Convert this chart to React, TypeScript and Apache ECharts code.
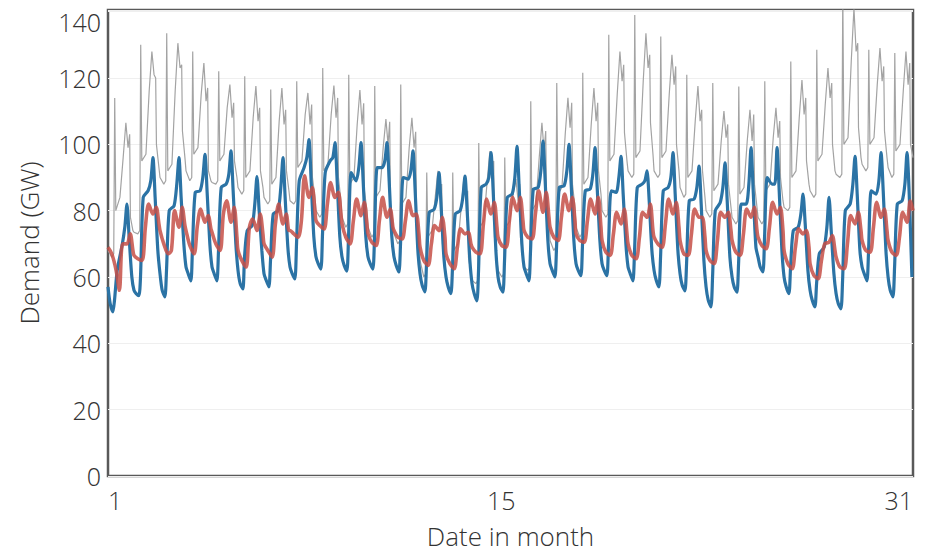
import React, { useEffect, useRef } from "react";
import * as echarts from "echarts";

// x axis: hours from the start of day 1 (hourly data, 31 days)
const xTickValues = [0, 363, 743];
const xTickLabels = ["1", "15", "31"];
const yTickLabels = ["0", "20", "40", "60", "80", "100", "120", "140"];

// key hours within each day at which values were read
const blueHours = [0, 2, 4.5, 6, 8.5, 13, 15.5, 17.5, 19.5, 22];
const redHours = [0, 3.5, 7.5, 10.5, 13.5, 17.5, 20.5, 23];
const greyHours = [0, 3.5, 5.3, 6.2, 7.2, 11, 14, 16.5, 18.5, 20, 20.7, 23];

// current demand (GW), one row per day
const blueDays = [
  [57, 52, 49.5, 53, 62, 69.5, 75, 82, 72, 60],
  [56, 55, 54.4, 60, 84, 86, 89, 96, 84, 68],
  [61, 56, 54, 62, 80, 81.5, 88, 96, 84, 70],
  [63, 61, 58.8, 69, 85.5, 86, 90, 97, 85.5, 70],
  [63, 61, 58.8, 68, 87, 88, 91, 98, 86, 70],
  [62, 58, 56.4, 66, 74, 75.5, 82, 90.3, 80, 68],
  [61, 59, 57, 65, 79, 80, 87, 96, 84, 69],
  [63, 61, 59.4, 70, 89, 93, 96, 101.4, 89, 72],
  [66, 64, 62.4, 73, 91.5, 95, 96, 100.5, 89, 72],
  [66, 63.5, 61.8, 72, 91.5, 89, 93, 100.5, 89, 72],
  [66, 64, 62.4, 72, 93, 93, 95, 100.5, 89, 72],
  [66, 63.5, 61.5, 70, 90, 89.5, 92, 98, 86, 68],
  [61, 57.5, 55.5, 64, 79.5, 80.4, 84, 91.5, 81, 66],
  [60, 57, 55, 63, 79, 80, 84, 90.4, 80, 65],
  [58, 55, 52.8, 62, 87, 88, 90, 97.5, 86, 68],
  [60, 57, 55.4, 65, 84, 85, 90, 99.4, 87, 70],
  [63, 61, 58.8, 68, 86.4, 87, 92, 101, 89, 71],
  [64, 62, 60, 69, 87, 87.5, 92, 100, 88, 71],
  [64, 62, 60.4, 70, 86, 86.5, 91, 99, 87, 71],
  [64, 62, 60.4, 70, 86, 85.5, 90, 96.4, 85, 70],
  [63, 61, 58.8, 68, 87, 88, 89, 92, 83, 68],
  [62, 59, 57, 66, 86, 87, 90, 97.5, 85, 68],
  [61, 57.5, 55.8, 64, 83, 83.5, 87, 93.4, 82, 65],
  [57, 53, 51, 60, 80, 82.4, 87, 94.4, 83, 66],
  [60, 57, 55.4, 64, 82, 82, 88, 99, 86, 69],
  [66, 63, 61.5, 72, 90, 88, 88, 99, 86, 68],
  [60, 57, 55, 63, 74, 75, 79, 85, 76, 62],
  [56, 53, 51, 58, 67, 69, 75, 84, 74, 61],
  [55, 52, 50.4, 59, 80, 82, 88, 96.4, 85, 68],
  [63, 61, 58.8, 68, 86, 85, 89, 97.5, 86, 68],
  [60, 56, 54, 63, 82, 83, 88, 97.5, 85, 60],
];

// flattened demand (GW)
const redDays = [
  [69, 67, 62, 56, 70, 70, 73, 68],
  [66.5, 65.5, 65, 75, 82, 79, 81, 76],
  [74, 70, 67, 68, 80, 75, 81, 75.5],
  [74, 69.5, 67, 75.5, 80.5, 76.5, 78.5, 74.5],
  [73.5, 70, 68, 79, 83, 76.5, 81, 72],
  [68, 65, 63, 75, 77.5, 74, 79, 73],
  [70, 68, 66, 76, 82, 76, 79, 74],
  [74, 73, 72, 77, 90.5, 84, 87, 80],
  [77, 75.5, 74.5, 82, 88.5, 84, 85.5, 79],
  [76, 72, 70, 77, 83.5, 78.5, 82.5, 76],
  [73, 70.5, 69.5, 77, 84, 78, 80.5, 75],
  [74, 72, 71.5, 77, 83, 78.5, 79, 73],
  [69, 65, 63.5, 70, 75.5, 74, 78, 72],
  [67, 64, 62.5, 69, 74.5, 73, 73.5, 70],
  [69, 67.5, 67, 76, 83.5, 79, 82.5, 75],
  [72, 69.5, 69, 77, 84, 80, 84, 77],
  [74, 72, 71.5, 79, 86, 79.5, 85.5, 78],
  [75, 72, 71, 78, 85, 80, 84, 77],
  [73, 71, 70.5, 77, 83.5, 79, 84, 75],
  [71, 67.5, 66.5, 73, 79.5, 76, 80.5, 73],
  [70, 66.5, 65.5, 72, 79.5, 78, 82, 74],
  [72, 70, 69, 76, 83.5, 79, 82.5, 75],
  [71, 67, 66.5, 73, 80.5, 78, 78, 72],
  [68, 65, 64, 71, 79.5, 78, 79.5, 74],
  [71, 67.5, 66.5, 73, 80.5, 78, 81, 74],
  [72, 69.5, 68.5, 75, 82.5, 79, 81, 74],
  [68, 64, 62.5, 69, 74.5, 73, 74, 69],
  [64, 60.5, 59.5, 65, 70, 70.5, 72.5, 68],
  [66, 63, 62.5, 70, 78.5, 76, 79.5, 74],
  [71, 68, 67.5, 75, 82.5, 78, 80.5, 74],
  [71, 67.5, 66.5, 72, 79.5, 76.5, 83, 80],
];

// electrified demand (GW)
const greyDays = [
  [68, 66, 67, 114, 80, 84, 96, 106.5, 99, 103, 78, 74],
  [73.5, 73, 74, 130, 95, 97, 116, 128, 121, 120, 100, 93],
  [90, 88, 89, 133.5, 92, 94, 116, 130.5, 123, 124, 104, 96],
  [92, 89, 90, 128, 97, 99, 115, 124.5, 113, 117, 92, 89],
  [88.5, 88, 89, 122, 95, 97, 111, 118, 108, 112.5, 95, 90],
  [87, 85, 86, 120.5, 90, 92, 108, 117.6, 107, 111, 92, 87],
  [84, 82, 83, 116.5, 88, 90, 107, 117, 106, 110.4, 92, 86],
  [83, 82, 83, 119, 93, 95, 109, 115.5, 106, 112, 90, 84],
  [80, 78, 79, 123, 92, 94, 109, 117.7, 108, 114, 90, 83],
  [78, 75, 76, 121, 88, 90, 106, 116.4, 106, 112.4, 86, 80],
  [75, 72, 73, 117.6, 84, 86, 99, 107.6, 100, 106.8, 82, 77],
  [73, 70, 71, 118, 82, 84, 99, 108, 99, 103.8, 80, 73],
  [65, 60, 61, 91.5, 72, 74, 84, 92, 85, 88, 70, 64],
  [60, 56, 57, 91.5, 68, 70, 81, 90, 83, 86, 66, 61],
  [59, 58, 59, 100.4, 75, 77, 89, 98, 90, 95, 72, 65],
  [62, 60, 61, 96, 75, 77, 85, 89.5, 83, 88, 72, 66],
  [63, 62, 63, 113, 80, 82, 96, 106.5, 98, 104, 85, 77],
  [71, 68, 69, 118.5, 85, 87, 103, 114, 105, 112.5, 88, 81],
  [75, 72, 73, 121.6, 88, 90, 106, 117, 107, 112.5, 92, 85],
  [80, 78, 79, 133, 95, 97, 115, 128, 119, 124, 103.5, 95],
  [92, 90, 91, 139, 96, 98, 119, 133.5, 123, 127, 106.5, 97],
  [92, 90, 91, 132.5, 96, 98, 115, 127, 118, 123.5, 100, 92],
  [87, 84, 85, 121, 90, 92, 107, 117.6, 107, 110.4, 92, 84],
  [80, 78, 79, 118.5, 86, 88, 101, 110, 102, 106, 88, 81],
  [78, 76, 77, 117.4, 85, 87, 101, 110.4, 101, 109, 88, 81],
  [78, 76, 77, 119, 86, 88, 102, 111, 102, 107, 90, 83],
  [81, 80, 81, 125, 90, 92, 108, 119.4, 109, 114, 95, 88],
  [86, 84, 85, 128.5, 95, 97, 112, 123, 114, 118.5, 100, 92],
  [91, 90, 91, 146, 100, 102, 125, 141, 128, 130.5, 105, 96],
  [94, 92, 93, 128.5, 100, 102, 118, 129, 119, 123.5, 104, 96],
  [93, 90, 91, 127.5, 98, 100, 116, 128, 118, 124.5, 100, 96],
];

function toPoints(hours: number[], days: number[][]) {
  const pts: number[][] = [];
  days.forEach((vals, d) => {
    vals.forEach((v, i) => pts.push([d * 24 + hours[i], v]));
  });
  return pts;
}

const FONT = "'Open Sans Light', 'Open Sans', 'Noto Sans', sans-serif";
const TEXT = "#333333";

export default function App() {
  const ref = useRef<HTMLDivElement>(null);
  useEffect(() => {
    document.body.style.margin = "0";
    if (!ref.current) return;
    const chart = echarts.init(ref.current, undefined, { renderer: "svg" });
    chart.setOption({
      animation: false,
      backgroundColor: "#ffffff",
      grid: {
        left: 108,
        right: 14,
        top: 10,
        bottom: 76,
        show: true,
        borderColor: "#595959",
        borderWidth: 2.5,
        backgroundColor: "transparent",
      },
      xAxis: {
        type: "value",
        min: 0,
        max: 743,
        axisLine: { show: false },
        axisTick: { show: false },
        splitLine: { show: false },
        axisLabel: {
          customValues: xTickValues,
          formatter: (v: number) => {
            const i = xTickValues.indexOf(v);
            return i >= 0 ? xTickLabels[i] : "";
          },
          fontFamily: FONT,
          fontWeight: 300,
          fontSize: 25,
          color: TEXT,
          margin: 11,
          alignMinLabel: "left",
          alignMaxLabel: "right",
        },
        name: "Date in month",
        nameLocation: "middle",
        nameGap: 47,
        nameTextStyle: { fontFamily: FONT, fontWeight: 300, fontSize: 26, color: TEXT },
      },
      yAxis: {
        type: "value",
        min: 0,
        max: 140.5,
        interval: 20,
        axisLine: { show: false },
        axisTick: { show: false },
        splitLine: { show: true, lineStyle: { color: "#efefef", width: 1 } },
        axisLabel: {
          fontFamily: FONT,
          fontWeight: 300,
          fontSize: 25,
          color: TEXT,
          margin: 7,
          formatter: (v: number) => {
            const s = yTickLabels[Math.round(v / 20)] ?? "";
            return v === 140 ? "{top|" + s + "}" : s;
          },
          rich: {
            top: {
              fontFamily: FONT,
              fontWeight: 300,
              fontSize: 25,
              color: TEXT,
              padding: [20, 0, 0, 0],
            },
          },
        },
        name: "Demand (GW)",
        nameLocation: "middle",
        nameGap: 66,
        nameTextStyle: { fontFamily: FONT, fontWeight: 300, fontSize: 26, color: TEXT },
      },
      series: [
        {
          type: "line",
          data: toPoints(greyHours, greyDays),
          showSymbol: false,
          symbol: "none",
          lineStyle: { color: "#a3a3a3", width: 1.2 },
          z: 1,
        },
        {
          type: "line",
          data: toPoints(blueHours, blueDays),
          showSymbol: false,
          symbol: "none",
          smooth: 0.25,
          lineStyle: { color: "#2b73a5", width: 3.2 },
          z: 2,
        },
        {
          type: "line",
          data: toPoints(redHours, redDays),
          showSymbol: false,
          symbol: "none",
          smooth: 0.3,
          lineStyle: { color: "#c64f47", width: 3.6, opacity: 0.85 },
          z: 3,
        },
      ],
    });
    return () => chart.dispose();
  }, []);
  return <div ref={ref} style={{ width: 927, height: 554 }} />;
}
